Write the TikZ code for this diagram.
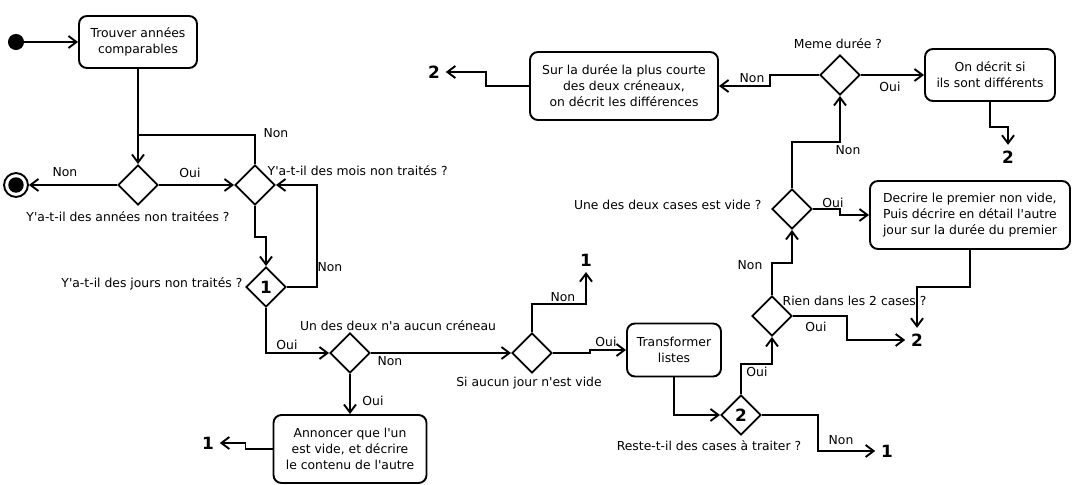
\documentclass[tikz,border=0pt]{standalone}
\usepackage{fontspec}
\setmainfont{DejaVu Sans}[Ligatures=TeXOff]
\usepackage{tikz}
\usetikzlibrary{arrows.meta, shapes.geometric}

\newcommand{\flowtxt}{\fontsize{8.8}{11.4}\selectfont}
\newcommand{\flownum}{\fontsize{12}{14}\selectfont\bfseries}

\tikzset{
	wire/.style={line width=1.35pt},
	flow/.style={wire, -{Straight Barb[length=2mm, width=3mm]}},
	act/.style={draw, line width=1.35pt, rounded corners=0.2cm, align=center, inner sep=2pt, font=\flowtxt},
	choice/.style={diamond, draw, line width=1.35pt, minimum width=1cm, minimum height=1cm, inner sep=0pt, font=\flownum},
	lbl/.style={inner sep=1pt, font=\flowtxt},
	num/.style={inner sep=4pt, font=\flownum},
}

\begin{document}
\begin{tikzpicture}[x=0.025cm, y=-0.025cm]
			\useasboundingbox (0,0) rectangle (1073,485);
			% Nodes:
			\node[fill, circle, minimum size=11.4pt, inner sep=0pt](N1) at (16,42){};
			\node[act, minimum width=2.95cm, minimum height=1.3cm](N2) at (138,42){Trouver années\\comparables};
			\node[choice](N3) at (138,185){};
			\node[circle, draw, line width=1.35pt, minimum size=17pt, inner sep=0pt](N4) at (16,185){};
			\fill (N4.center) circle (5.5pt);
			\node[choice](N5) at (255,185){};
			\node[choice](N6) at (266,287){1};
			\node[choice](N7) at (350,353){};
			\node[choice](N8) at (532,353){};
			\node[act, minimum width=3.825cm, minimum height=1.7cm](N9) at (350,449){Annoncer que l'un\\est vide, et décrire\\le contenu de l'autre};
			\node[num](N10) at (208,443){1};
			\node[num](N11) at (586,260){1};
			\node[act, minimum width=2.35cm, minimum height=1.325cm](N12) at (674,350){Transformer\\listes};
			\node[choice](N13) at (741,415){2};
			\node[num](N14) at (887,451){1};
			\node[choice](N15) at (772,316){};
			\node[num](N16) at (917,340){2};
			\node[choice](N17) at (792,209){};
			\node[act, align=left, minimum width=5cm, minimum height=1.7cm](N18) at (970,215){Decrire le premier non vide,\\Puis décrire en détail l'autre\\jour sur la durée du premier};
			\node[choice](N19) at (840,75){};
			\node[act, minimum width=3.25cm, minimum height=1.3cm](N20) at (990,75){On décrit si\\ils sont différents};
			\node[num](N21) at (1008,157){2};
			\node[act, minimum width=4.7cm, minimum height=1.7cm](N22) at (624,86){Sur la durée la plus courte\\des deux créneaux,\\on décrit les différences};
			\node[num](N23) at (434,72){2};
			\coordinate (J1) at (138,135);
			% Questions and answers:
			\node[lbl](N24) at (128,217){Y'a-t-il des années non traitées ?};
			\node[lbl, anchor=west](N25) at (266,171){Y'a-t-il des mois non traités ?};
			\node[lbl, anchor=east](N26) at (244,284){Y'a-t-il des jours non traités ?};
			\node[lbl](N27) at (398,326){Un des deux n'a aucun créneau};
			\node[lbl](N28) at (529,383){Si aucun jour n'est vide};
			\node[lbl](N29) at (709,446){Reste-t-il des cases à traiter ?};
			\node[lbl, anchor=west](N30) at (781,301){Rien dans les 2 cases ?};
			\node[lbl, anchor=east](N31) at (763,205){Une des deux cases est vide ?};
			\node[lbl](N32) at (838,44){Meme durée ?};
			\node[lbl](N33) at (276,133){Non};
			\node[lbl](N34) at (65,172){Non};
			\node[lbl](N35) at (190,173){Oui};
			\node[lbl](N36) at (330,267){Non};
			\node[lbl](N37) at (287,345){Oui};
			\node[lbl](N38) at (373,401){Oui};
			\node[lbl](N39) at (390,361){Non};
			\node[lbl](N40) at (563,297){Non};
			\node[lbl](N41) at (606,342){Oui};
			\node[lbl](N42) at (841,440){Non};
			\node[lbl](N43) at (757,372){Oui};
			\node[lbl](N44) at (816,327){Oui};
			\node[lbl](N45) at (750,265){Non};
			\node[lbl](N46) at (833,203){Oui};
			\node[lbl](N47) at (890,87){Oui};
			\node[lbl](N48) at (752,78){Non};
			\node[lbl](N49) at (848,150){Non};
			% Paths:
			\draw[flow] (N1) -- (N2);
			\draw[flow] (N2) -- (N3);
			\draw[wire] (N5.north) |- (J1);
			\draw[flow] (N3.west) -- (N4);
			\draw[flow] (N3.east) -- (N5.west);
			\draw[flow] (N5.south) -- ++(0,31) -| (N6.north);
			\draw[flow] (N6.east) -- ++(30,0) |- (N5.east);
			\draw[flow] (N6.south) |- (N7.west);
			\draw[flow] (N7.south) -- (N9.north);
			\draw[flow] (N7.east) -- (N8.west);
			\draw[flow] (N8.north) -- ++(0,-28) -| (N11.south);
			\draw[flow] (N8.east) -- ++(37,0) |- (N12.west);
			\draw[flow] (N9.west) -- ++(-27,0) |- (N10.east);
			\draw[flow] (N12.south) |- (N13.west);
			\draw[flow] (N13.east) -- ++(56,0) |- (N14.west);
			\draw[flow] (N13.north) -- ++(0,-30) -| (N15.south);
			\draw[flow] (N15.east) -- ++(54,0) |- (N16.west);
			\draw[flow] (N15.north) -- ++(0,-32) -| (N17.south);
			\draw[flow] (N17.east) -- ++(27,0) |- (N18.west);
			\draw[flow] (N18.south) -- ++(0,37) -| (N16.north);
			\draw[flow] (N17.north) -- ++(0,-46) -| (N19.south);
			\draw[flow] (N19.east) -- (N20.west);
			\draw[flow] (N19.west) -- ++(-49,0) |- (N22.east);
			\draw[flow] (N20.south) -- ++(0,25) -| (N21.north);
			\draw[flow] (N22.west) -- ++(-43,0) |- (N23.east);
		\end{tikzpicture}
\end{document}
